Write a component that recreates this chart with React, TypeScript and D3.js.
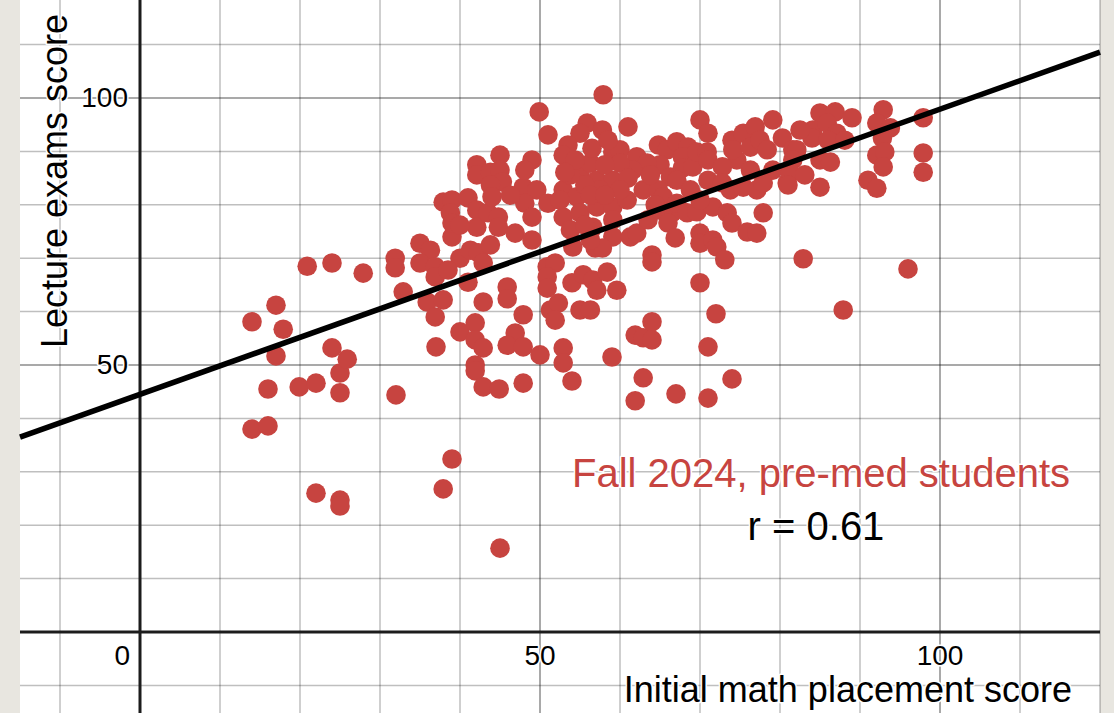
import React from 'react';
import * as d3 from 'd3';

// placement score, lecture exam score
const students: [number, number][] = [
  [14.0, 58.1], [14.0, 38.0], [16.0, 38.6], [17.0, 61.2], [17.9, 56.7], [17.0, 51.7],
  [16.0, 45.5], [19.9, 45.9], [20.9, 68.5], [22.0, 46.6], [22.0, 26.0], [24.0, 69.1],
  [24.0, 53.2], [25.0, 48.5], [25.0, 44.8], [25.0, 24.7], [25.0, 23.6], [25.9, 51.1],
  [27.9, 67.2], [31.9, 70.0], [31.9, 68.2], [32.0, 44.4], [32.9, 63.7], [35.0, 72.8],
  [36.3, 71.5], [35.0, 69.1], [36.9, 68.4], [36.9, 66.5], [35.9, 61.8], [37.9, 62.2],
  [36.9, 59.0], [37.0, 53.4], [39.0, 74.0], [40.0, 70.0], [41.3, 71.5], [41.0, 65.5],
  [42.3, 71.0], [42.9, 69.1], [40.0, 56.2], [41.9, 57.9], [41.9, 54.7], [42.9, 53.2],
  [41.9, 50.0], [41.9, 48.9], [42.9, 45.9], [44.9, 45.5], [47.9, 46.6], [39.0, 32.4],
  [37.9, 26.8], [45.0, 15.7], [38.5, 67.8], [37.9, 80.5], [39.0, 80.9], [41.0, 81.3],
  [38.8, 78.5], [39.0, 76.6], [42.1, 79.0], [42.1, 75.8], [43.5, 78.5], [44.8, 77.7],
  [44.8, 75.8], [46.9, 74.7], [49.0, 73.4], [43.8, 72.5], [42.9, 61.8], [45.9, 64.6],
  [45.9, 62.4], [47.9, 59.4], [50.9, 68.4], [51.9, 69.1], [50.9, 66.5], [50.9, 64.4],
  [54.0, 65.4], [55.4, 66.9], [56.6, 65.9], [58.4, 67.4], [57.1, 64.0], [59.6, 64.0],
  [55.0, 60.3], [56.3, 60.3], [51.3, 60.3], [52.3, 61.6], [51.9, 58.4], [46.9, 56.0],
  [45.9, 53.7], [47.9, 53.4], [50.0, 51.9], [52.9, 53.2], [52.9, 50.4], [54.0, 47.0],
  [59.0, 51.5], [61.9, 55.6], [62.9, 55.1], [64.0, 58.1], [64.0, 54.7], [62.9, 47.6],
  [61.9, 43.3], [67.0, 44.6], [70.0, 65.4], [72.0, 59.6], [71.0, 53.4], [71.0, 43.8],
  [74.0, 47.4], [82.9, 69.9], [87.9, 60.3], [96.0, 68.0], [57.9, 100.6], [49.9, 97.4],
  [51.0, 93.1], [55.9, 95.3], [57.8, 94.0], [55.0, 93.4], [53.5, 91.2], [52.9, 89.3],
  [49.0, 88.4], [45.0, 89.3], [42.1, 87.5], [42.1, 85.6], [43.8, 86.1], [45.0, 86.5],
  [45.3, 84.3], [43.8, 83.7], [44.0, 81.5], [47.9, 83.3], [49.6, 82.8], [48.1, 80.3],
  [49.0, 77.7], [51.0, 80.3], [52.9, 82.8], [55.0, 86.0], [56.3, 87.8], [57.1, 84.6],
  [59.1, 89.9], [59.1, 84.6], [54.6, 81.5], [52.9, 77.7], [55.0, 78.5], [57.1, 79.6],
  [59.1, 79.6], [53.8, 75.3], [56.6, 75.8], [59.1, 74.0], [54.1, 72.1], [56.9, 71.9],
  [61.0, 94.6], [70.0, 95.9], [71.0, 93.4], [60.0, 90.3], [62.1, 89.0], [64.8, 91.2],
  [65.9, 90.3], [67.1, 91.8], [68.5, 90.8], [67.8, 89.0], [65.0, 87.5], [63.4, 87.8],
  [61.6, 86.5], [60.0, 87.8], [66.3, 85.2], [67.8, 86.9], [69.1, 87.1], [69.6, 89.9],
  [70.9, 89.9], [71.0, 88.4], [61.0, 85.0], [62.9, 82.8], [64.8, 82.8], [65.4, 81.5],
  [67.1, 84.6], [71.0, 84.6], [60.9, 80.9], [60.0, 82.8], [59.1, 77.2], [61.3, 74.0],
  [62.1, 74.7], [63.5, 77.2], [65.0, 79.0], [66.5, 78.5], [66.0, 76.6], [67.1, 80.3],
  [68.4, 78.5], [69.6, 78.7], [70.0, 74.7], [70.0, 72.8], [71.6, 73.4], [72.1, 72.1],
  [73.1, 69.7], [66.9, 73.8], [64.0, 70.6], [64.0, 69.3], [57.8, 71.9], [71.6, 79.6],
  [73.4, 78.5], [74.0, 76.6], [75.9, 74.9], [77.1, 74.7], [77.9, 78.5], [74.0, 92.1],
  [75.4, 93.4], [76.9, 94.6], [79.1, 95.9], [80.3, 92.5], [74.6, 88.4], [74.1, 90.3],
  [76.3, 90.8], [77.5, 92.1], [78.4, 90.3], [79.1, 86.5], [76.3, 86.5], [72.8, 87.1],
  [72.8, 84.1], [73.8, 82.8], [75.4, 83.3], [77.1, 82.8], [77.9, 84.1], [80.9, 84.1],
  [81.6, 90.3], [85.0, 97.2], [86.9, 97.4], [89.0, 96.3], [84.1, 94.0], [84.0, 92.5],
  [85.9, 95.3], [87.1, 93.4], [86.0, 92.1], [82.1, 90.3], [81.6, 88.4], [81.3, 86.0],
  [81.0, 83.7], [85.0, 88.4], [86.3, 88.0], [85.0, 83.3], [92.9, 97.8], [92.1, 95.3],
  [93.8, 94.4], [92.8, 92.5], [92.1, 89.3], [93.1, 89.9], [92.9, 87.1], [91.0, 84.6],
  [92.1, 83.1], [97.9, 96.3], [97.9, 89.7], [97.9, 86.1], [57.5, 82.8], [55.6, 83.7],
  [58.1, 87.5], [53.8, 85.6], [52.5, 80.9], [56.3, 73.4], [54.4, 88.4], [56.5, 90.6],
  [58.5, 92.1], [53.1, 86.1], [56.3, 81.8], [58.1, 81.8], [55.6, 76.2], [63.8, 85.6],
  [68.8, 82.8], [70.0, 80.9], [64.4, 80.0], [82.5, 94.0], [88.1, 92.1], [83.1, 85.6],
  [48.1, 86.5], [46.3, 81.8], [40.0, 76.2],
];

// least squares line as shown
const fitIntercept = 44.5;
const fitSlope = 0.534;

const xLabels = [50, 100];
const yLabels = [50, 100];
const gridX = d3.range(-10, 121, 10);
const gridY = d3.range(-10, 111, 10);

const W = 1114;
const H = 713;
const RED = '#c74440';
const FONT = '"Liberation Sans", Arial, Helvetica, sans-serif';

export default function App() {
  const x = d3.scaleLinear().domain([0, 100]).range([140, 940]);
  const y = d3.scaleLinear().domain([0, 100]).range([632, 98]);
  const left = 20, right = 1100;
  const xMin = x.invert(left), xMax = x.invert(right);

  const halo = {
    stroke: '#fff',
    strokeWidth: 3,
    paintOrder: 'stroke' as const,
    strokeLinejoin: 'round' as const,
  };

  return (
    <svg width={W} height={H} style={{ position: 'absolute', left: 0, top: 0 }} fontFamily={FONT}>
      <rect width={W} height={H} fill="#e8e6e0" />
      <rect x={left} width={right - left} height={H} fill="#fff" />

      {gridX.map(v => (
        <line key={'gx' + v} x1={x(v)} x2={x(v)} y1={0} y2={H}
          stroke={v % 50 === 0 ? 'rgba(0,0,0,0.45)' : 'rgba(0,0,0,0.25)'} strokeWidth={1.5} />
      ))}
      {gridY.map(v => (
        <line key={'gy' + v} x1={left} x2={right} y1={y(v)} y2={y(v)}
          stroke={v % 50 === 0 ? 'rgba(0,0,0,0.45)' : 'rgba(0,0,0,0.25)'} strokeWidth={1.5} />
      ))}

      {/* axes */}
      <line x1={left} x2={right} y1={y(0)} y2={y(0)} stroke="#1c1c1c" strokeWidth={3} />
      <line x1={x(0)} x2={x(0)} y1={0} y2={H} stroke="#1c1c1c" strokeWidth={3} />

      {students.map(([sx, sy], i) => (
        <circle key={i} cx={x(sx)} cy={y(sy)} r={9.8} fill={RED} />
      ))}

      <line x1={left} x2={right}
        y1={y(fitIntercept + fitSlope * xMin)} y2={y(fitIntercept + fitSlope * xMax)}
        stroke="#000" strokeWidth={5.5} />

      {/* tick labels */}
      <g fontSize={28} fill="#000" style={halo}>
        {yLabels.map(v => (
          <text key={'yl' + v} x={x(0) - 12} y={y(v) + 9} textAnchor="end">{v}</text>
        ))}
        {xLabels.map(v => (
          <text key={'xl' + v} x={x(v)} y={y(0) + 33} textAnchor="middle">{v}</text>
        ))}
        <text x={x(0) - 10} y={y(0) + 33} textAnchor="end">0</text>
      </g>

      {/* axis titles */}
      <g fontSize={36} fill="#000" style={halo}>
        <text transform={`translate(67,181) rotate(-90)`} textAnchor="middle">Lecture exams score</text>
        <text x={1072} y={702} textAnchor="end">Initial math placement score</text>
      </g>

      {/* annotation */}
      <g fontSize={40} style={halo}>
        <text x={821} y={487} textAnchor="middle" fill={RED}>Fall 2024, pre-med students</text>
        <text x={816} y={540} textAnchor="middle" fill="#000">r = 0.61</text>
      </g>
    </svg>
  );
}
